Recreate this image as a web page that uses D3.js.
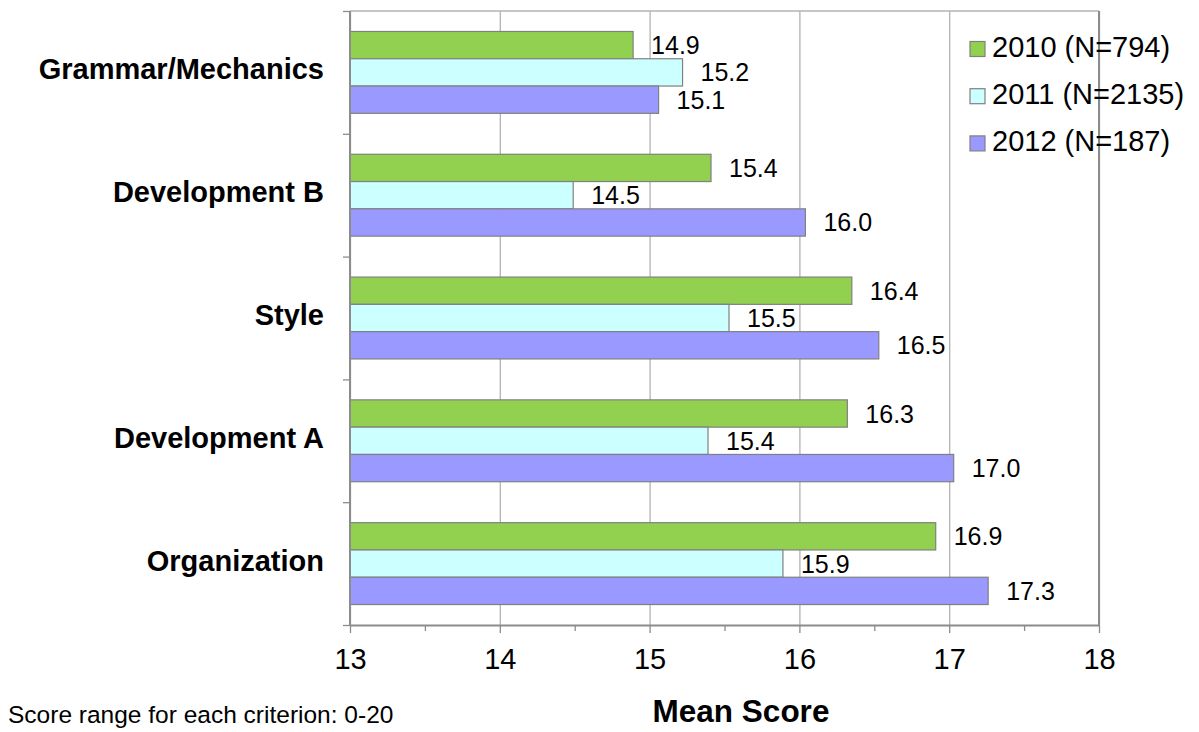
<!DOCTYPE html>
<html>
<head>
<meta charset="utf-8">
<script src="https://cdn.jsdelivr.net/npm/d3@7"></script>
<style>
  body { margin: 0; background: #fff; }
  svg { display: block; font-family: "Liberation Sans", Arial, sans-serif; }
</style>
</head>
<body>
<svg id="chart"></svg>
<script>
// criteria, top to bottom
const categories = ["Grammar/Mechanics", "Development B", "Style", "Development A", "Organization"];
// series (legend order)
const seriesNames = ["2010 (N=794)", "2011 (N=2135)", "2012 (N=187)"];
const values2010 = [14.89, 15.41, 16.35, 16.32, 16.91];
const values2011 = [15.22, 14.49, 15.53, 15.39, 15.89];
const values2012 = [15.06, 16.04, 16.53, 17.03, 17.26];
const xTicks = [13, 14, 15, 16, 17, 18];
const xMinorTicks = [13.5, 14.5, 15.5, 16.5, 17.5];
const colors = ["#92d050", "#ccffff", "#9999ff"];

function main() {
    let seriesValues = [values2010, values2011, values2012];
    let data = [];
    categories.forEach((c, i) => {
        seriesNames.forEach((s, j) => {
            data.push({ cat: c, series: s, value: seriesValues[j][i], idx: j });
        });
    });
    barChart(data);
}

function barChart(data) {
    const canvasWidth = 1199;
    const canvasHeight = 732;
    const svg = d3.select("#chart")
        .attr("width", canvasWidth)
        .attr("height", canvasHeight);

    const left = 350, right = 1099, top = 11, bottom = 625;

    let x = d3.scaleLinear()
        .domain([13, 18])
        .range([left, right]);

    let y = d3.scaleBand()
        .domain(categories)
        .range([top, bottom])
        .padding(0);

    let yInner = d3.scaleBand()
        .domain(seriesNames)
        .range([0, y.bandwidth()])
        .paddingInner(0)
        .paddingOuter(0.75);

    // vertical gridlines
    svg.append("g")
        .attr("transform", `translate(0, ${bottom})`)
        .call(d3.axisBottom(x).tickValues(xTicks).tickSize(-(bottom - top)).tickFormat(""))
        .call(g => g.select(".domain").remove())
        .selectAll("line")
        .attr("stroke", "#b3b3b3")
        .attr("stroke-width", 1.3);

    // top frame line (light)
    svg.append("line")
        .attr("x1", left).attr("x2", right)
        .attr("y1", top).attr("y2", top)
        .attr("stroke", "#b3b3b3")
        .attr("stroke-width", 1.3);

    // bars
    svg.selectAll("rect.bar")
        .data(data)
        .join("rect")
        .attr("class", "bar")
        .attr("x", x(13))
        .attr("y", d => y(d.cat) + yInner(d.series))
        .attr("width", d => x(d.value) - x(13))
        .attr("height", yInner.bandwidth())
        .attr("fill", d => colors[d.idx])
        .attr("stroke", "#808080")
        .attr("stroke-width", 1.2);

    // value labels
    svg.selectAll("text.val")
        .data(data)
        .join("text")
        .attr("class", "val")
        .attr("x", d => x(d.value) + 18)
        .attr("y", d => y(d.cat) + yInner(d.series) + yInner.bandwidth() / 2 + 9)
        .attr("font-size", 25)
        .attr("fill", "#000")
        .text(d => d.value.toFixed(1));

    // frame: left, right
    const frameColor = "#8c8c8c";
    svg.append("line")
        .attr("x1", left).attr("x2", left)
        .attr("y1", top).attr("y2", bottom)
        .attr("stroke", frameColor).attr("stroke-width", 2);
    svg.append("line")
        .attr("x1", right).attr("x2", right)
        .attr("y1", top).attr("y2", bottom)
        .attr("stroke", frameColor).attr("stroke-width", 2);

    // X axis with major ticks and labels
    let xAxis = svg.append("g")
        .attr("transform", `translate(0, ${bottom})`)
        .call(d3.axisBottom(x).tickValues(xTicks).tickFormat(d3.format("d"))
            .tickSize(8).tickPadding(15).tickSizeOuter(0));
    xAxis.select(".domain").attr("stroke", frameColor).attr("stroke-width", 2);
    xAxis.selectAll("line").attr("stroke", frameColor).attr("stroke-width", 1.3);
    xAxis.selectAll("text")
        .attr("font-size", 29)
        .attr("font-family", "Liberation Sans, Arial, sans-serif")
        .attr("fill", "#000");

    // minor ticks
    svg.append("g")
        .attr("transform", `translate(0, ${bottom})`)
        .call(d3.axisBottom(x).tickValues(xMinorTicks).tickSize(6).tickFormat(""))
        .call(g => g.select(".domain").remove())
        .selectAll("line")
        .attr("stroke", frameColor)
        .attr("stroke-width", 1.3);

    // left ticks at category boundaries
    let yEdge = d3.scaleLinear().domain([0, categories.length]).range([top, bottom]);
    svg.append("g")
        .attr("transform", `translate(${left}, 0)`)
        .call(d3.axisLeft(yEdge).tickValues(d3.range(categories.length + 1)).tickSize(7).tickFormat(""))
        .call(g => g.select(".domain").remove())
        .selectAll("line")
        .attr("stroke", frameColor)
        .attr("stroke-width", 1.3);

    // category labels
    let yAxis = svg.append("g")
        .attr("transform", `translate(${left}, 0)`)
        .call(d3.axisLeft(y).tickSize(0).tickPadding(26));
    yAxis.select(".domain").remove();
    yAxis.selectAll("text")
        .attr("font-size", 29)
        .attr("font-weight", "bold")
        .attr("font-family", "Liberation Sans, Arial, sans-serif")
        .attr("fill", "#000")
        .attr("dy", "0.24em");

    // legend
    let legend = svg.append("g")
        .selectAll("g")
        .data(seriesNames)
        .join("g")
        .attr("transform", (d, i) => `translate(970, ${57 + i * 47.2})`);
    legend.append("rect")
        .attr("x", 0)
        .attr("y", -15.5)
        .attr("width", 15)
        .attr("height", 15)
        .attr("fill", (d, i) => colors[i])
        .attr("stroke", "#808080")
        .attr("stroke-width", 1.2);
    legend.append("text")
        .attr("x", 22)
        .attr("y", 0)
        .attr("font-size", 29)
        .text(d => d);

    // x axis title
    svg.append("text")
        .text("Mean Score")
        .attr("x", 741)
        .attr("y", 722)
        .attr("font-size", 31.5)
        .attr("font-weight", "bold")
        .style("text-anchor", "middle");

    // note
    svg.append("text")
        .text("Score range for each criterion: 0-20")
        .attr("x", 8)
        .attr("y", 723)
        .attr("font-size", 24.5);
}

main();
</script>
</body>
</html>
